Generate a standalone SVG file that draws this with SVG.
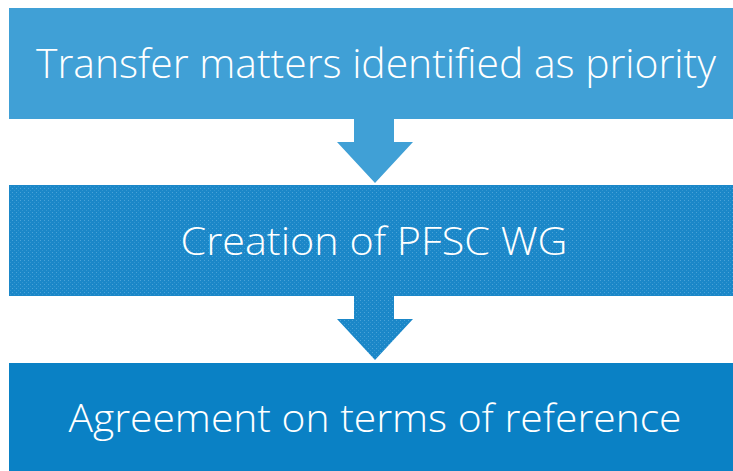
<svg xmlns="http://www.w3.org/2000/svg" width="733" height="471" viewBox="0 0 733 471">
  <defs>
    <pattern id="dots" width="4" height="4" patternUnits="userSpaceOnUse">
      <rect width="4" height="4" fill="#1b87c8"/>
      <rect x="0" y="0" width="1" height="1" fill="#4aa3d8"/>
      <rect x="2" y="2" width="1" height="1" fill="#3396d0"/>
    </pattern>
  </defs>
  <style>
    .lbl { font-family: "Open Sans", "Noto Sans", "Liberation Sans", sans-serif; fill: #ffffff; text-anchor: middle; font-weight: 300; }
  </style>
  <rect width="733" height="471" fill="#ffffff"/>
  <g id="connectors">
    <polygon points="354,118 394,118 394,142 413,142 375,183 337,142 354,142" fill="#40a0d6"/>
    <polygon points="354,295 394,295 394,319 413,319 375,360 337,319 354,319" fill="url(#dots)"/>
  </g>
  <g id="node1">
    <rect x="9" y="8" width="724" height="111" fill="#40a0d6"/>
    <text class="lbl" x="376" y="78" font-size="40" textLength="680" lengthAdjust="spacingAndGlyphs">Transfer matters identified as priority</text>
  </g>
  <g id="node2">
    <rect x="9" y="185" width="724" height="111" fill="url(#dots)"/>
    <text class="lbl" x="374" y="255" font-size="39" textLength="387" lengthAdjust="spacingAndGlyphs">Creation of PFSC WG</text>
  </g>
  <g id="node3">
    <rect x="9" y="363" width="724" height="108" fill="#0a81c5"/>
    <text class="lbl" x="375" y="432" font-size="39" textLength="613" lengthAdjust="spacingAndGlyphs">Agreement on terms of reference</text>
  </g>
</svg>
